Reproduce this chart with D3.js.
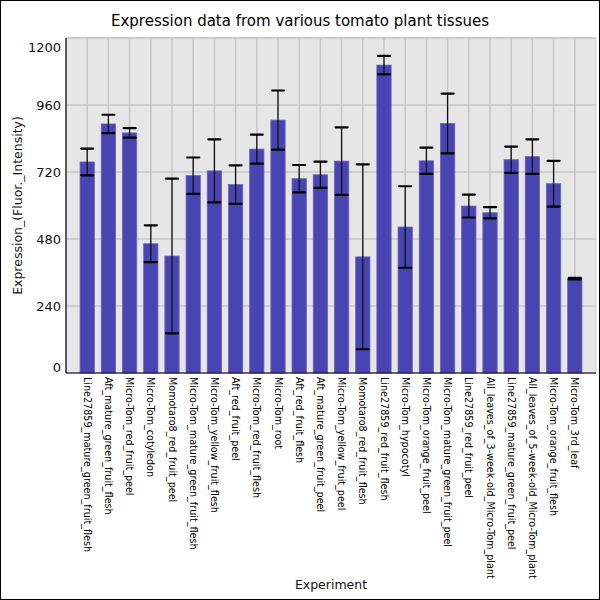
<!DOCTYPE html>
<html>
<head>
<meta charset="utf-8">
<script src="https://cdn.jsdelivr.net/npm/d3@7"></script>
<style>
  body { margin: 0; background: #fff; }
  svg { display: block; font-family: "DejaVu Sans", sans-serif; }
</style>
</head>
<body>
<svg id="chart" width="600" height="600"></svg>
<script>
// data
var experiments = [
  "Line27859_mature_green_fruit_flesh", "Aft_mature_green_fruit_flesh", "Micro-Tom_red_fruit_peel",
  "Micro-Tom_cotyledon", "Momotaro8_red_fruit_peel", "Micro-Tom_mature_green_fruit_flesh",
  "Micro-Tom_yellow_fruit_flesh", "Aft_red_fruit_peel", "Micro-Tom_red_fruit_flesh",
  "Micro-Tom_root", "Aft_red_fruit_flesh", "Aft_mature_green_fruit_peel",
  "Micro-Tom_yellow_fruit_peel", "Momotaro8_red_fruit_flesh", "Line27859_red_fruit_flesh",
  "Micro-Tom_hypocotyl", "Micro-Tom_orange_fruit_peel", "Micro-Tom_mature_green_fruit_peel",
  "Line27859_red_fruit_peel", "All_leaves_of_3-week-old_Micro-Tom_plant", "Line27859_mature_green_fruit_peel",
  "All_leaves_of_5-week-old_Micro-Tom_plant", "Micro-Tom_orange_fruit_flesh", "Micro-Tom_3rd_leaf"
];
var expression = [756, 892, 860, 463, 419, 707, 724, 675, 802, 906, 696, 710,
                  759, 416, 1103, 523, 760, 894, 598, 574, 764, 775, 678, 338];
var errors = [48, 33, 17, 66, 277, 65, 113, 69, 52, 106, 49, 47,
              121, 331, 33, 146, 47, 107, 41, 20, 47, 62, 82, 3];
var yTicks = [0, 240, 480, 720, 960, 1200];

var svg = d3.select("#chart");
var margin = {top: 38, right: 4, bottom: 227, left: 66};
var width = 600 - margin.left - margin.right;
var height = 600 - margin.top - margin.bottom;

// outer frame
svg.append("rect")
  .attr("x", 0.5).attr("y", 0.5).attr("width", 599).attr("height", 599)
  .attr("fill", "#fff").attr("stroke", "#000");

var g = svg.append("g").attr("transform", "translate(" + margin.left + "," + margin.top + ")");

var x = d3.scaleLinear().domain([0, experiments.length + 1]).range([0, width]);
var y = d3.scaleLinear().domain([0, 1200]).range([height, 0]);
var barW = 14.3;

g.append("rect")
  .attr("width", width).attr("height", height)
  .attr("fill", "#e6e6e6").attr("stroke", "#cfcfcf");

//grid
g.append("g").selectAll("line").data(yTicks).enter().append("line")
  .attr("x1", 0).attr("x2", width)
  .attr("y1", function(d) { return y(d); }).attr("y2", function(d) { return y(d); })
  .attr("stroke", "#c6c6c6").attr("stroke-width", 1.5);
g.append("g").selectAll("line").data(experiments).enter().append("line")
  .attr("x1", function(d, i) { return x(i + 1); }).attr("x2", function(d, i) { return x(i + 1); })
  .attr("y1", 0).attr("y2", height)
  .attr("stroke", "#c6c6c6").attr("stroke-width", 1.5);

//bars
g.append("g").selectAll("rect").data(expression).enter().append("rect")
  .attr("x", function(d, i) { return x(i + 1) - barW / 2; })
  .attr("y", function(d) { return y(d); })
  .attr("width", barW)
  .attr("height", function(d) { return height - y(d); })
  .attr("fill", "#4a44b2")
  .attr("stroke", "#6a65c0").attr("stroke-width", 0.8);

//error bars
var eb = g.append("g").selectAll("g").data(expression).enter().append("g");
eb.append("line")
  .attr("x1", function(d, i) { return x(i + 1); }).attr("x2", function(d, i) { return x(i + 1); })
  .attr("y1", function(d, i) { return y(d + errors[i]); })
  .attr("y2", function(d, i) { return y(d - errors[i]); })
  .attr("stroke", "#111").attr("stroke-width", 1.3);
[1, -1].forEach(function(s) {
  eb.append("line")
    .attr("x1", function(d, i) { return x(i + 1) - 6; }).attr("x2", function(d, i) { return x(i + 1) + 6; })
    .attr("y1", function(d, i) { return y(d + s * errors[i]); })
    .attr("y2", function(d, i) { return y(d + s * errors[i]); })
    .attr("stroke", "#000").attr("stroke-width", 2.2).attr("stroke-linecap", "round");
});

//axes
g.append("line").attr("x1", 0).attr("x2", 0).attr("y1", 0).attr("y2", height)
  .attr("stroke", "#000").attr("stroke-width", 1.2);
g.append("line").attr("x1", 0).attr("x2", width).attr("y1", height).attr("y2", height)
  .attr("stroke", "#000").attr("stroke-width", 1.2);

g.append("g").selectAll("text").data(yTicks).enter().append("text")
  .attr("x", -5)
  .attr("y", function(d) { return y(d) + (d === 0 ? -6 : (d === 1200 ? 9 : 0)); })
  .attr("dy", "0.35em")
  .attr("text-anchor", "end")
  .attr("font-size", 13)
  .attr("fill", "#111")
  .text(function(d) { return d; });

g.append("g").selectAll("text").data(experiments).enter().append("text")
  .attr("transform", function(d, i) { return "translate(" + x(i + 1) + "," + (height + 4) + ") rotate(90)"; })
  .attr("dy", "0.35em")
  .attr("font-size", 9.6)
  .attr("fill", "#000")
  .text(function(d) { return d; });

//titles
svg.append("text").attr("x", 300).attr("y", 26).attr("text-anchor", "middle")
  .attr("font-size", 15).attr("fill", "#000")
  .text("Expression data from various tomato plant tissues");
svg.append("text").attr("x", 331).attr("y", 589).attr("text-anchor", "middle")
  .attr("font-size", 12.5).attr("fill", "#111")
  .text("Experiment");
svg.append("text")
  .attr("transform", "translate(22," + (margin.top + height / 2) + ") rotate(-90)")
  .attr("text-anchor", "middle")
  .attr("font-size", 12.5).attr("fill", "#111")
  .text("Expression_(Fluor._Intensity)");
</script>
</body>
</html>
